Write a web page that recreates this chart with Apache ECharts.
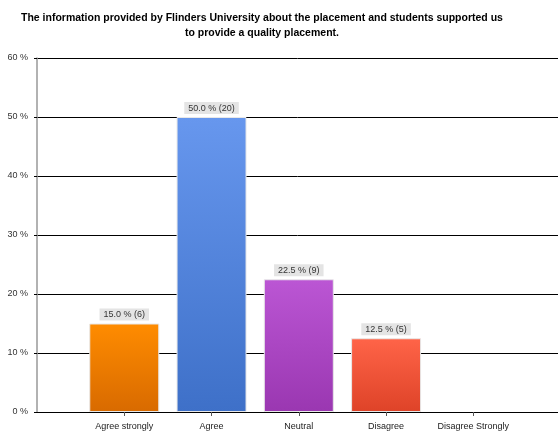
<!DOCTYPE html>
<html>
<head>
<meta charset="utf-8">
<script src="https://cdn.jsdelivr.net/npm/echarts@6/dist/echarts.min.js"></script>
<style>
  html, body { margin: 0; padding: 0; background: #fff; }
  #chart { width: 558px; height: 431px; }
</style>
</head>
<body>
<div id="chart"></div>
<script>
// Survey responses
const titleLines = [
  'The information provided by Flinders University about the placement and students supported us',
  'to provide a quality placement.'
];
const categories = ['Agree strongly', 'Agree', 'Neutral', 'Disagree', 'Disagree Strongly'];
const percents = [15.0, 50.0, 22.5, 12.5, 0];
const counts = [6, 20, 9, 5, 0];
const yTicks = [0, 10, 20, 30, 40, 50, 60];

// Gradient per bar: [top, bottom]
const barColors = [
  ['#ff8c00', '#d86a00'],
  ['#6797ee', '#3e70c8'],
  ['#bb56d4', '#9a37b1'],
  ['#ff6448', '#de4328'],
  ['#cccccc', '#aaaaaa']
];

const chart = echarts.init(document.getElementById('chart'), null, { renderer: 'canvas' });

chart.setOption({
  animation: false,
  graphic: [{
    type: 'text',
    left: 21,
    top: 11,
    style: {
      text: titleLines.join('\n'),
      fontFamily: 'Liberation Sans, Arial, sans-serif',
      fontSize: 10.5,
      fontWeight: 'bold',
      fill: '#000',
      lineHeight: 15,
      textAlign: 'center'
    }
  }],
  grid: { left: 37, right: 0, top: 58, bottom: 17, containLabel: false },
  // Category slots sit at 1..5 on a numeric axis, with a slot of padding either side
  xAxis: {
    type: 'value',
    min: 0,
    max: categories.length + 0.97,
    interval: 1,
    axisLine: { show: true, lineStyle: { color: '#000', width: 1 } },
    axisTick: { show: true, length: 4, lineStyle: { color: '#555' } },
    axisLabel: {
      margin: 10,
      showMaxLabel: false,
      showMinLabel: false,
      formatter: function (v) { return categories[v - 1] || ''; },
      fontFamily: 'Liberation Sans, Arial, sans-serif',
      fontSize: 9,
      color: '#222'
    },
    splitLine: { show: false }
  },
  yAxis: {
    type: 'value',
    min: yTicks[0],
    max: yTicks[yTicks.length - 1],
    interval: 10,
    axisLine: { show: true, lineStyle: { color: '#999', width: 1.5 } },
    axisTick: { show: true, length: 3, lineStyle: { color: '#000' } },
    axisLabel: {
      margin: 9,
      formatter: '{value} %',
      fontFamily: 'Liberation Sans, Arial, sans-serif',
      fontSize: 9,
      color: '#333'
    },
    splitLine: { show: true, lineStyle: { color: '#000', width: 1 } }
  },
  series: [{
    type: 'bar',
    barWidth: 70,
    data: percents.map(function (v, i) {
      return {
        value: [i + 1, v],
        count: counts[i],
        itemStyle: {
          borderColor: '#e8e8e8',
          borderWidth: v > 0 ? 1 : 0,
          color: new echarts.graphic.LinearGradient(0, 0, 0, 1, [
            { offset: 0, color: barColors[i][0] },
            { offset: 1, color: barColors[i][1] }
          ])
        },
        label: { show: v > 0 }
      };
    }),
    label: {
      position: 'top',
      distance: 3,
      formatter: function (p) { return p.value[1].toFixed(1) + ' % (' + p.data.count + ')'; },
      fontFamily: 'Liberation Sans, Arial, sans-serif',
      fontSize: 9,
      color: '#333',
      backgroundColor: '#e4e4e4',
      padding: [2, 4, 1, 4]
    }
  }]
});
</script>
</body>
</html>
